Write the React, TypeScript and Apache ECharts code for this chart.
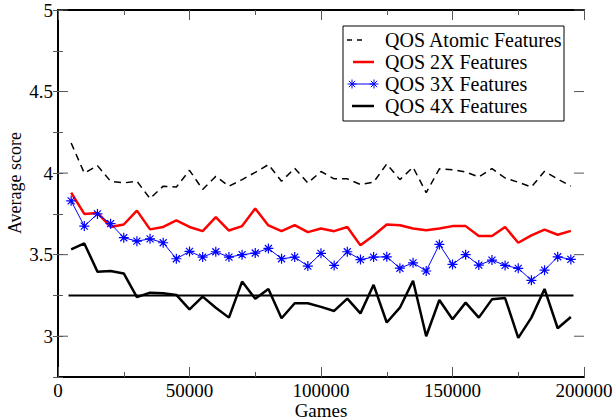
import React, { useEffect, useRef } from "react";
import * as echarts from "echarts";

const games = [
  5000, 10000, 15000, 20000, 25000, 30000, 35000, 40000, 45000, 50000,
  55000, 60000, 65000, 70000, 75000, 80000, 85000, 90000, 95000, 100000,
  105000, 110000, 115000, 120000, 125000, 130000, 135000, 140000, 145000, 150000,
  155000, 160000, 165000, 170000, 175000, 180000, 185000, 190000, 195000,
];

const atomic = [
  4.185, 4.0, 4.046, 3.95, 3.94, 3.95, 3.844, 3.92, 3.915, 4.017,
  3.9, 3.98, 3.92, 3.96, 4.005, 4.052, 3.95, 4.03, 3.94, 4.01,
  3.965, 3.965, 3.93, 3.944, 4.056, 3.96, 4.036, 3.88, 4.026, 4.021,
  4.007, 3.976, 4.028, 3.97, 3.944, 3.915, 4.011, 3.964, 3.92,
];

const twoX = [
  3.88, 3.75, 3.756, 3.67, 3.685, 3.77, 3.655, 3.67, 3.71, 3.67,
  3.644, 3.73, 3.648, 3.675, 3.783, 3.679, 3.644, 3.681, 3.638, 3.66,
  3.644, 3.67, 3.557, 3.618, 3.685, 3.68, 3.66, 3.65, 3.66, 3.675,
  3.675, 3.614, 3.614, 3.67, 3.573, 3.618, 3.654, 3.622, 3.646,
];

const threeX = [
  3.83, 3.675, 3.75, 3.69, 3.604, 3.583, 3.597, 3.573, 3.475, 3.52,
  3.485, 3.518, 3.485, 3.5, 3.51, 3.538, 3.475, 3.485, 3.43, 3.508,
  3.434, 3.518, 3.47, 3.485, 3.487, 3.417, 3.45, 3.4, 3.563, 3.44,
  3.5, 3.436, 3.467, 3.434, 3.416, 3.343, 3.405, 3.487, 3.471,
];

const fourX = [
  3.532, 3.569, 3.396, 3.4, 3.385, 3.24, 3.267, 3.263, 3.253, 3.165,
  3.243, 3.175, 3.114, 3.335, 3.23, 3.29, 3.11, 3.202, 3.202, 3.18,
  3.155, 3.23, 3.14, 3.315, 3.084, 3.175, 3.34, 3.0, 3.222, 3.104,
  3.206, 3.114, 3.226, 3.234, 2.99, 3.114, 3.29, 3.049, 3.118,
];

const baselineX = [4000, 196000];
const baselineY = [3.25, 3.25];

const yMajorTicks = [3, 3.5, 4, 4.5, 5];

const seriesNames = [
  "QOS Atomic Features",
  "QOS 2X Features",
  "QOS 3X Features",
  "QOS 4X Features",
];

const xTitle = "Games";
const yTitle = "Average score";

const FONT = "Liberation Serif";
const STAR_PATH = "path://M10 0L10 20M0 10L20 10M3 3L17 17M3 17L17 3";

function zip(xs: number[], ys: number[]) {
  return xs.map((x, i) => [x, ys[i]]);
}

function starGroup(cx: number, cy: number, r: number, color: string) {
  const d = r * 0.7;
  const seg = (x1: number, y1: number, x2: number, y2: number) => ({
    type: "line",
    shape: { x1, y1, x2, y2 },
    style: { stroke: color, lineWidth: 1 },
  });
  return [
    seg(cx - r, cy, cx + r, cy),
    seg(cx, cy - r, cx, cy + r),
    seg(cx - d, cy - d, cx + d, cy + d),
    seg(cx - d, cy + d, cx + d, cy - d),
  ];
}

export default function App() {
  const ref = useRef<HTMLDivElement>(null);

  useEffect(() => {
    if (!ref.current) return;
    const chart = echarts.init(ref.current, undefined, { renderer: "svg" });

    const axisLine = { show: true, lineStyle: { color: "#000", width: 2 } };
    const tickStyle = { color: "#555", width: 1 };

    const rowY = [40, 62, 84, 106];
    const textX = 385;

    const legendChildren: any[] = [
      {
        type: "rect",
        shape: { x: 343, y: 26, width: 221, height: 95 },
        style: { fill: "#fff", stroke: "#000", lineWidth: 1 },
      },
      { type: "line", shape: { x1: 347, y1: rowY[0], x2: 352, y2: rowY[0] }, style: { stroke: "#000", lineWidth: 1.5 } },
      { type: "line", shape: { x1: 357, y1: rowY[0], x2: 362, y2: rowY[0] }, style: { stroke: "#000", lineWidth: 1.5 } },
      { type: "line", shape: { x1: 353, y1: rowY[1], x2: 374, y2: rowY[1] }, style: { stroke: "#ff0000", lineWidth: 2.5 } },
      { type: "line", shape: { x1: 352, y1: rowY[2], x2: 374, y2: rowY[2] }, style: { stroke: "#0000ff", lineWidth: 1 } },
      ...starGroup(352, rowY[2], 4.5, "#0000ff"),
      ...starGroup(374, rowY[2], 4.5, "#0000ff"),
      { type: "line", shape: { x1: 352, y1: rowY[3], x2: 374, y2: rowY[3] }, style: { stroke: "#000", lineWidth: 2.5 } },
    ];
    seriesNames.forEach((name, i) => {
      legendChildren.push({
        type: "text",
        x: textX,
        y: rowY[i],
        style: {
          text: name,
          font: `20px ${FONT}`,
          fill: "#000",
          verticalAlign: "middle",
          textVerticalAlign: "middle",
        },
      });
    });

    const xAxisBase = {
      type: "value",
      min: 0,
      max: 200000,
      interval: 50000,
      axisLine,
      axisTick: { show: true, inside: true, length: 10, lineStyle: tickStyle },
      minorTick: { show: true, splitNumber: 2, length: 5, lineStyle: tickStyle },
      splitLine: { show: false },
      minorSplitLine: { show: false },
    };

    const yAxisBase = {
      type: "value",
      min: 2.75,
      max: 5,
      interval: 0.25,
      axisLine,
      axisTick: { show: true, inside: true, length: 5, lineStyle: tickStyle },
      splitLine: { show: false },
    };

    chart.setOption({
      animation: false,
      backgroundColor: "#fff",
      textStyle: { fontFamily: FONT },
      grid: {
        left: 58,
        right: 32,
        top: 10,
        bottom: 43,
        containLabel: false,
        outerBoundsMode: "none",
      },
      xAxis: [
        {
          ...xAxisBase,
          position: "bottom",
          name: xTitle,
          nameLocation: "middle",
          nameGap: 25,
          nameMoveOverlap: false,
          nameTextStyle: { fontFamily: FONT, fontSize: 19, lineHeight: 16, color: "#000" },
          axisLabel: {
            show: true,
            fontFamily: FONT,
            fontSize: 19,
            lineHeight: 15,
            color: "#000",
            margin: 6,
            formatter: (v: number) => String(v),
          },
        },
        {
          ...xAxisBase,
          position: "top",
          axisLabel: { show: false },
        },
      ],
      yAxis: [
        {
          ...yAxisBase,
          position: "left",
          axisLabel: {
            show: true,
            fontFamily: FONT,
            fontSize: 19,
            color: "#000",
            margin: 5,
            formatter: (v: number) =>
              Math.abs(v * 2 - Math.round(v * 2)) < 1e-6 ? String(v) : "",
          },
        },
        {
          ...yAxisBase,
          position: "right",
          axisLabel: { show: false },
        },
      ],
      graphic: [
        { type: "group", children: legendChildren },
        {
          type: "text",
          x: 15,
          y: 183,
          rotation: Math.PI / 2,
          style: {
            text: yTitle,
            font: `18px ${FONT}`,
            fill: "#000",
            align: "center",
            verticalAlign: "middle",
            textAlign: "center",
            textVerticalAlign: "middle",
          },
        },
      ],
      series: [
        {
          name: seriesNames[0],
          type: "line",
          data: zip(games, atomic),
          symbol: "none",
          lineStyle: { color: "#000", width: 1.5, type: [7, 5] },
          z: 3,
        },
        {
          name: seriesNames[1],
          type: "line",
          data: zip(games, twoX),
          symbol: "none",
          lineStyle: { color: "#ff0000", width: 2.5 },
          z: 3,
        },
        {
          name: seriesNames[2],
          type: "line",
          data: zip(games, threeX),
          symbol: STAR_PATH,
          symbolSize: 10,
          itemStyle: { color: "#0000ff", borderColor: "#0000ff", borderWidth: 1.2 },
          lineStyle: { color: "#0000ff", width: 1 },
          z: 4,
        },
        {
          name: seriesNames[3],
          type: "line",
          data: zip(games, fourX),
          symbol: "none",
          lineStyle: { color: "#000", width: 2.5 },
          z: 3,
        },
        {
          name: "baseline",
          type: "line",
          data: zip(baselineX, baselineY),
          symbol: "none",
          lineStyle: { color: "#000", width: 2 },
          z: 3,
        },
        {
          name: "majorTicks",
          type: "custom",
          silent: true,
          clip: false,
          data: yMajorTicks.map((v) => [0, v]),
          encode: { x: 0, y: 1 },
          renderItem: (params: any, api: any) => {
            const v = api.value(1);
            const l = api.coord([0, v]);
            const r = api.coord([200000, v]);
            return {
              type: "group",
              children: [
                {
                  type: "line",
                  shape: { x1: l[0], y1: l[1], x2: l[0] + 10, y2: l[1] },
                  style: { stroke: "#555", lineWidth: 1 },
                },
                {
                  type: "line",
                  shape: { x1: r[0], y1: r[1], x2: r[0] - 10, y2: r[1] },
                  style: { stroke: "#555", lineWidth: 1 },
                },
              ],
            };
          },
          z: 2,
        },
      ],
    });

    return () => {
      chart.dispose();
    };
  }, []);

  return (
    <div
      ref={ref}
      style={{ position: "absolute", left: 0, top: 0, width: 616, height: 420 }}
    />
  );
}
